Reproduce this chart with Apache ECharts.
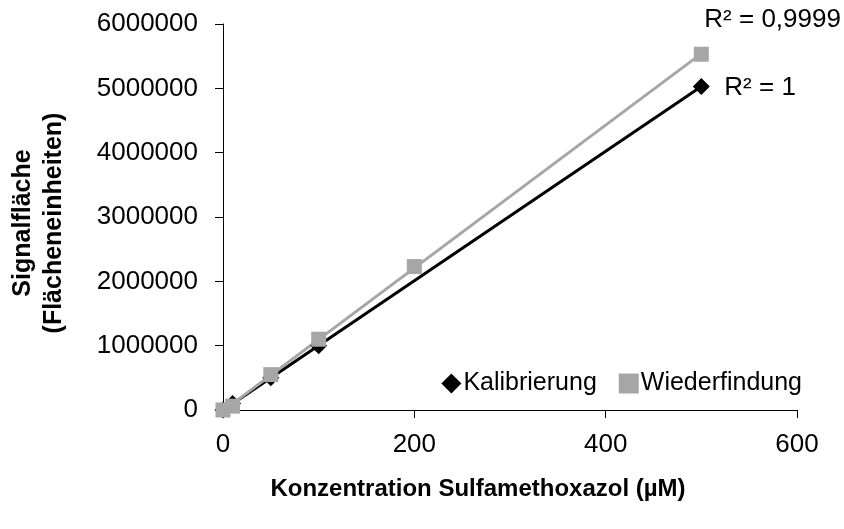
<!DOCTYPE html>
<html>
<head>
<meta charset="utf-8">
<script src="https://cdn.jsdelivr.net/npm/echarts@6/dist/echarts.min.js"></script>
<style>html,body{margin:0;padding:0;background:#fff}#c{width:844px;height:529px}</style>
</head>
<body>
<div id="c"></div>
<script>
// Calibration and recovery measurements (concentration in µM, peak area)
const kalX = [0, 10, 50, 100, 500];
const kalY = [0, 100000, 500000, 1000000, 5030000];
const wfX = [0, 10, 50, 100, 200, 500];
const wfY = [0, 60000, 550000, 1100000, 2230000, 5530000];
const kalR2 = 'R² = 1';
const wfR2 = 'R² = 0,9999';
const xTicks = [0, 200, 400, 600];

function pairs(xs, ys) { return xs.map((x, i) => [x, ys[i]]); }

// Least-squares linear trendline across the measured range
function trend(xs, ys) {
  const n = xs.length;
  const mx = xs.reduce((a, b) => a + b, 0) / n;
  const my = ys.reduce((a, b) => a + b, 0) / n;
  let sxy = 0, sxx = 0;
  for (let i = 0; i < n; i++) { sxy += (xs[i] - mx) * (ys[i] - my); sxx += (xs[i] - mx) ** 2; }
  const b = sxy / sxx, a = my - b * mx;
  const x0 = Math.min(...xs), x1 = Math.max(...xs);
  return [[x0, a + b * x0], [x1, a + b * x1]];
}

const font = 'Liberation Sans, Arial, sans-serif';
const chart = echarts.init(document.getElementById('c'), null, { renderer: 'canvas' });
const kalTrend = trend(kalX, kalY);
const wfTrend = trend(wfX, wfY);

chart.setOption({
  animation: false,
  grid: { left: 222, right: 47, top: 24, bottom: 119 },
  legend: {
    right: 37, top: 366, itemGap: 22, itemWidth: 20, itemHeight: 20,
    textStyle: { fontFamily: font, fontSize: 25, color: '#000', padding: [0, 0, 0, -3] },
    data: [
      { name: 'Kalibrierung', icon: 'diamond' },
      { name: 'Wiederfindung', icon: 'rect' }
    ]
  },
  xAxis: {
    type: 'value', min: 0, max: 600, interval: 200,
    name: 'Konzentration Sulfamethoxazol (µM)', nameLocation: 'middle', nameGap: 67,
    nameTextStyle: { fontFamily: font, fontSize: 24, fontWeight: 'bold', color: '#000', padding: [0, 64, 0, 0] },
    axisLine: { show: true, onZero: false, lineStyle: { color: '#000', width: 1 } },
    axisTick: { show: true, length: 8, lineStyle: { color: '#000' } },
    axisLabel: { fontFamily: font, fontSize: 26, color: '#000', margin: 22,
      formatter: v => xTicks.includes(v) ? String(v) : '' },
    splitLine: { show: false }
  },
  yAxis: {
    type: 'value', min: 0, max: 6000000, interval: 1000000,
    name: 'Signalfläche\n(Flächeneinheiten)', nameLocation: 'middle', nameGap: 153, nameRotate: 90,
    nameTextStyle: { fontFamily: font, fontSize: 25, fontWeight: 'bold', color: '#000', lineHeight: 31,
      padding: [0, 12, 0, 0] },
    axisLine: { show: true, lineStyle: { color: '#000', width: 1 } },
    axisTick: { show: true, length: 8, lineStyle: { color: '#000' } },
    axisLabel: { fontFamily: font, fontSize: 26, color: '#000', margin: 25, formatter: v => String(v) },
    splitLine: { show: false }
  },
  series: [
    {
      name: 'Kalibrierung-Trend', type: 'line', data: kalTrend, symbol: 'none', silent: true,
      lineStyle: { color: '#000', width: 3 }, z: 2,
      endLabel: { show: true, formatter: kalR2, fontFamily: font, fontSize: 26, color: '#000', offset: [15, 1] }
    },
    {
      name: 'Wiederfindung-Trend', type: 'line', data: wfTrend, symbol: 'none', silent: true,
      lineStyle: { color: '#a6a6a6', width: 3 }, z: 3,
      endLabel: { show: true, formatter: wfR2, fontFamily: font, fontSize: 26, color: '#000', offset: [-5, -34] }
    },
    {
      name: 'Kalibrierung', type: 'scatter', data: pairs(kalX, kalY), symbol: 'diamond', symbolSize: 17,
      itemStyle: { color: '#000', opacity: 1 }, z: 4
    },
    {
      name: 'Wiederfindung', type: 'scatter', data: pairs(wfX, wfY), symbol: 'rect', symbolSize: 15,
      itemStyle: { color: '#a6a6a6', opacity: 1 }, z: 5
    }
  ]
});
</script>
</body>
</html>
